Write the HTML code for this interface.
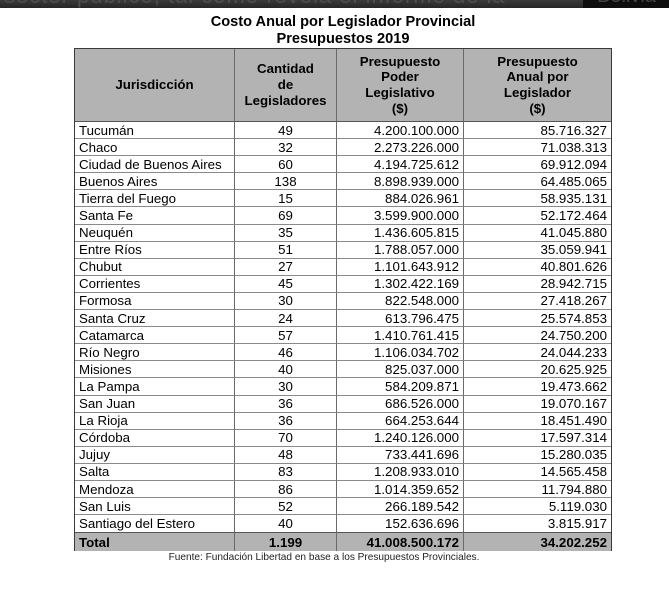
<!DOCTYPE html>
<html><head><meta charset="utf-8">
<style>
html,body{margin:0;padding:0;background:#fff;}
body{width:669px;height:606px;position:relative;overflow:hidden;font-family:"Liberation Sans",Arial,sans-serif;color:#000;}
.bar{position:absolute;left:0;top:0;width:669px;height:8px;background:linear-gradient(#3a3a3a,#262626);overflow:hidden;}
.bar .t{position:absolute;left:4px;top:-17px;font-size:22px;color:#4e4e4e;white-space:nowrap;letter-spacing:1px;}
.btn{position:absolute;left:583px;top:0;width:86px;height:8px;background:#0e0e0e;overflow:hidden;}
.btn .t{position:absolute;left:14px;top:-15px;font-size:20px;color:#444;white-space:nowrap;}
.title{position:absolute;left:0;width:686px;text-align:center;font-weight:bold;font-size:14.6px;line-height:17px;}
.grid{position:absolute;left:75px;top:49px;width:536px;height:501px;display:grid;
grid-template-columns:160px 102px 127px 147px;
grid-template-rows:73px repeat(24,17.1px) 18.6px;
box-shadow:0 0 0 1px #3a3a3a;}
.grid>div{box-sizing:border-box;border-right:1px solid #6a6a6a;border-bottom:1px solid #8a8a8a;font-size:13.3px;line-height:15px;display:flex;align-items:center;white-space:nowrap;overflow:hidden;}
.grid>div.l{justify-content:flex-start;padding-left:4px;}
.grid>div.c{justify-content:center;}
.grid>div.r{justify-content:flex-end;padding-right:4px;}
.grid>div.e{border-right:none;}
.grid>div.h{background:#b3b3b3;font-weight:bold;justify-content:center;text-align:center;line-height:15.7px;border-bottom:1px solid #555;}
.grid>div.tot{background:#b3b3b3;font-weight:bold;border-bottom:none;border-top:1px solid #555;}
.src{position:absolute;left:0;width:648px;top:552px;text-align:center;font-size:10.1px;color:#222;}
</style></head><body>
<div class="bar"><div class="t">sector público, tal como revela el informe de la</div></div>
<div class="btn"><div class="t">Bolivia</div></div>
<div class="title" style="top:14px;">Costo Anual por Legislador Provincial</div>
<div class="title" style="top:31px;">Presupuestos 2019</div>
<div class="grid">
<div class="h">Jurisdicción</div>
<div class="h">Cantidad<br>de<br>Legisladores</div>
<div class="h">Presupuesto<br>Poder<br>Legislativo<br>($)</div>
<div class="h e">Presupuesto<br>Anual por<br>Legislador<br>($)</div>

<div class="l">Tucumán</div><div class="c">49</div><div class="r">4.200.100.000</div><div class="r e">85.716.327</div>
<div class="l">Chaco</div><div class="c">32</div><div class="r">2.273.226.000</div><div class="r e">71.038.313</div>
<div class="l">Ciudad de Buenos Aires</div><div class="c">60</div><div class="r">4.194.725.612</div><div class="r e">69.912.094</div>
<div class="l">Buenos Aires</div><div class="c">138</div><div class="r">8.898.939.000</div><div class="r e">64.485.065</div>
<div class="l">Tierra del Fuego</div><div class="c">15</div><div class="r">884.026.961</div><div class="r e">58.935.131</div>
<div class="l">Santa Fe</div><div class="c">69</div><div class="r">3.599.900.000</div><div class="r e">52.172.464</div>
<div class="l">Neuquén</div><div class="c">35</div><div class="r">1.436.605.815</div><div class="r e">41.045.880</div>
<div class="l">Entre Ríos</div><div class="c">51</div><div class="r">1.788.057.000</div><div class="r e">35.059.941</div>
<div class="l">Chubut</div><div class="c">27</div><div class="r">1.101.643.912</div><div class="r e">40.801.626</div>
<div class="l">Corrientes</div><div class="c">45</div><div class="r">1.302.422.169</div><div class="r e">28.942.715</div>
<div class="l">Formosa</div><div class="c">30</div><div class="r">822.548.000</div><div class="r e">27.418.267</div>
<div class="l">Santa Cruz</div><div class="c">24</div><div class="r">613.796.475</div><div class="r e">25.574.853</div>
<div class="l">Catamarca</div><div class="c">57</div><div class="r">1.410.761.415</div><div class="r e">24.750.200</div>
<div class="l">Río Negro</div><div class="c">46</div><div class="r">1.106.034.702</div><div class="r e">24.044.233</div>
<div class="l">Misiones</div><div class="c">40</div><div class="r">825.037.000</div><div class="r e">20.625.925</div>
<div class="l">La Pampa</div><div class="c">30</div><div class="r">584.209.871</div><div class="r e">19.473.662</div>
<div class="l">San Juan</div><div class="c">36</div><div class="r">686.526.000</div><div class="r e">19.070.167</div>
<div class="l">La Rioja</div><div class="c">36</div><div class="r">664.253.644</div><div class="r e">18.451.490</div>
<div class="l">Córdoba</div><div class="c">70</div><div class="r">1.240.126.000</div><div class="r e">17.597.314</div>
<div class="l">Jujuy</div><div class="c">48</div><div class="r">733.441.696</div><div class="r e">15.280.035</div>
<div class="l">Salta</div><div class="c">83</div><div class="r">1.208.933.010</div><div class="r e">14.565.458</div>
<div class="l">Mendoza</div><div class="c">86</div><div class="r">1.014.359.652</div><div class="r e">11.794.880</div>
<div class="l">San Luis</div><div class="c">52</div><div class="r">266.189.542</div><div class="r e">5.119.030</div>
<div class="l" style="border-bottom:none;">Santiago del Estero</div><div class="c" style="border-bottom:none;">40</div><div class="r" style="border-bottom:none;">152.636.696</div><div class="r e" style="border-bottom:none;">3.815.917</div>
<div class="l tot">Total</div><div class="c tot">1.199</div><div class="r tot">41.008.500.172</div><div class="r e tot">34.202.252</div>
</div>
<div class="src">Fuente: Fundación Libertad en base a los Presupuestos Provinciales.</div>
</body></html>
